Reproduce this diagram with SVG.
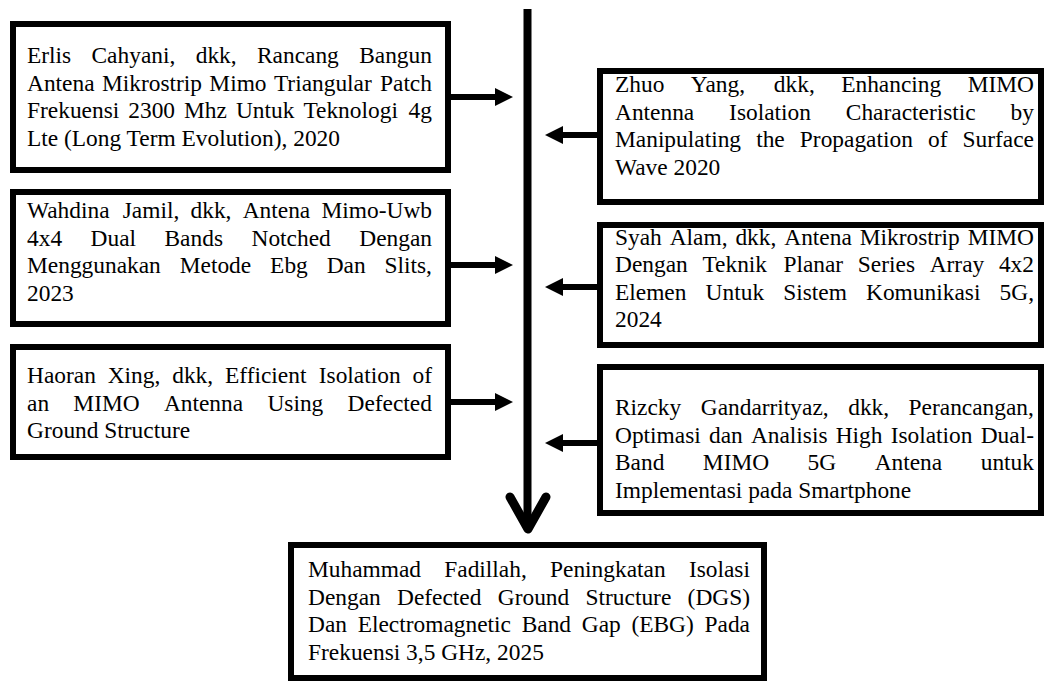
<svg xmlns="http://www.w3.org/2000/svg" width="1046" height="682" viewBox="0 0 1046 682">
<style>
.box{fill:#fff;stroke:#000;stroke-width:6}
.t{font-family:"Liberation Serif","Times New Roman",serif;font-size:23.4px;fill:#000}
.con{stroke:#000;fill:none}
</style>
<defs>
<marker id="ah" markerUnits="userSpaceOnUse" markerWidth="18" markerHeight="18" refX="0" refY="9" orient="auto">
<path d="M0,0 L18,9 L0,18 Z" fill="#000"/>
</marker>
</defs>
<rect width="1046" height="682" fill="#fff"/>
<g id="connectors">
<line class="con" x1="527.5" y1="9" x2="527.5" y2="526" stroke-width="8"/>
<path class="con" d="M510,497 L528,529 L546,497" stroke-width="9" stroke-linecap="round" stroke-linejoin="round"/>
<line class="con" x1="451" y1="97" x2="495" y2="97" stroke-width="6" marker-end="url(#ah)"/>
<line class="con" x1="451" y1="265" x2="495" y2="265" stroke-width="6" marker-end="url(#ah)"/>
<line class="con" x1="451" y1="402" x2="495" y2="402" stroke-width="6" marker-end="url(#ah)"/>
<line class="con" x1="597" y1="135" x2="563" y2="135" stroke-width="6" marker-end="url(#ah)"/>
<line class="con" x1="597" y1="287" x2="563" y2="287" stroke-width="6" marker-end="url(#ah)"/>
<line class="con" x1="597" y1="443" x2="563" y2="443" stroke-width="6" marker-end="url(#ah)"/>
</g>
<g id="erlis">
<rect class="box" x="13" y="24" width="435" height="146"/>
<text class="t" y="63"><tspan x="27">Erlis</tspan><tspan x="91.53">Cahyani,</tspan><tspan x="195.7">dkk,</tspan><tspan x="256.98">Rancang</tspan><tspan x="359.19">Bangun</tspan></text>
<text class="t" y="90.7"><tspan x="27">Antena</tspan><tspan x="101.91">Mikrostrip</tspan><tspan x="209.35">Mimo</tspan><tspan x="273.89">Triangular</tspan><tspan x="379.99">Patch</tspan></text>
<text class="t" y="118.4"><tspan x="27">Frekuensi</tspan><tspan x="128.27">2300</tspan><tspan x="184.05">Mhz</tspan><tspan x="235.92">Untuk</tspan><tspan x="303.4">Teknologi</tspan><tspan x="408.58">4g</tspan></text>
<text class="t" x="27" y="146.1">Lte (Long Term Evolution), 2020</text>
</g>
<g id="wahdina">
<rect class="box" x="13" y="192" width="435" height="132"/>
<text class="t" y="218"><tspan x="27">Wahdina</tspan><tspan x="122.71">Jamil,</tspan><tspan x="190.51">dkk,</tspan><tspan x="242.7">Antena</tspan><tspan x="321.52">Mimo-Uwb</tspan></text>
<text class="t" y="245.7"><tspan x="27">4x4</tspan><tspan x="90.57">Dual</tspan><tspan x="164.53">Bands</tspan><tspan x="251.5">Notched</tspan><tspan x="359.25">Dengan</tspan></text>
<text class="t" y="273.4"><tspan x="27">Menggunakan</tspan><tspan x="179.74">Metode</tspan><tspan x="270.1">Ebg</tspan><tspan x="326.67">Dan</tspan><tspan x="384.52">Slits,</tspan></text>
<text class="t" x="27" y="301.1">2023</text>
</g>
<g id="haoran">
<rect class="box" x="13" y="347" width="435" height="110"/>
<text class="t" y="383"><tspan x="27">Haoran</tspan><tspan x="107.72">Xing,</tspan><tspan x="172.22">dkk,</tspan><tspan x="225.02">Efficient</tspan><tspan x="318.75">Isolation</tspan><tspan x="412.5">of</tspan></text>
<text class="t" y="410.7"><tspan x="27">an</tspan><tspan x="73.34">MIMO</tspan><tspan x="163.88">Antenna</tspan><tspan x="267.41">Using</tspan><tspan x="347.56">Defected</tspan></text>
<text class="t" x="27" y="438.4">Ground Structure</text>
</g>
<g id="zhuo">
<rect class="box" x="600" y="71" width="441" height="131"/>
<text class="t" y="92"><tspan x="615">Zhuo</tspan><tspan x="690.84">Yang,</tspan><tspan x="773.81">dkk,</tspan><tspan x="841.2">Enhancing</tspan><tspan x="967.72">MIMO</tspan></text>
<text class="t" y="119.5"><tspan x="615">Antenna</tspan><tspan x="729.1">Isolation</tspan><tspan x="845.82">Characteristic</tspan><tspan x="1010.6">by</tspan></text>
<text class="t" y="147"><tspan x="615">Manipulating</tspan><tspan x="756.17">the</tspan><tspan x="799.83">Propagation</tspan><tspan x="927.99">of</tspan><tspan x="962.55">Surface</tspan></text>
<text class="t" x="615" y="174.5">Wave 2020</text>
</g>
<g id="syah">
<rect class="box" x="600" y="225" width="441" height="120"/>
<text class="t" y="244.5"><tspan x="615">Syah</tspan><tspan x="669.69">Alam,</tspan><tspan x="735.42">dkk,</tspan><tspan x="784.26">Antena</tspan><tspan x="859.73">Mikrostrip</tspan><tspan x="967.73">MIMO</tspan></text>
<text class="t" y="272"><tspan x="615">Dengan</tspan><tspan x="702.43">Teknik</tspan><tspan x="783.38">Planar</tspan><tspan x="857.83">Series</tspan><tspan x="929.68">Array</tspan><tspan x="998.91">4x2</tspan></text>
<text class="t" y="299.5"><tspan x="615">Elemen</tspan><tspan x="705.6">Untuk</tspan><tspan x="783.21">Sistem</tspan><tspan x="866.04">Komunikasi</tspan><tspan x="999.55">5G,</tspan></text>
<text class="t" x="615" y="327">2024</text>
</g>
<g id="rizcky">
<rect class="box" x="600" y="367" width="441" height="146"/>
<text class="t" y="415"><tspan x="615">Rizcky</tspan><tspan x="700.74">Gandarrityaz,</tspan><tspan x="848.19">dkk,</tspan><tspan x="908.59">Perancangan,</tspan></text>
<text class="t" y="442.5"><tspan x="615">Optimasi</tspan><tspan x="708.95">dan</tspan><tspan x="750.88">Analisis</tspan><tspan x="835.73">High</tspan><tspan x="890.67">Isolation</tspan><tspan x="980.71">Dual-</tspan></text>
<text class="t" y="470"><tspan x="615">Band</tspan><tspan x="702.86">MIMO</tspan><tspan x="807.61">5G</tspan><tspan x="874.66">Antena</tspan><tspan x="980.7">untuk</tspan></text>
<text class="t" x="615" y="497.5">Implementasi pada Smartphone</text>
</g>
<g id="fadillah">
<rect class="box" x="291" y="545" width="473" height="133"/>
<text class="t" y="577"><tspan x="308">Muhammad</tspan><tspan x="444.28">Fadillah,</tspan><tspan x="550.03">Peningkatan</tspan><tspan x="688.91">Isolasi</tspan></text>
<text class="t" y="604.5"><tspan x="308">Dengan</tspan><tspan x="397.05">Defected</tspan><tspan x="497.78">Ground</tspan><tspan x="585.55">Structure</tspan><tspan x="687.61">(DGS)</tspan></text>
<text class="t" y="632"><tspan x="308">Dan</tspan><tspan x="357.66">Electromagnetic</tspan><tspan x="521.7">Band</tspan><tspan x="581.78">Gap</tspan><tspan x="631.44">(EBG)</tspan><tspan x="704.5">Pada</tspan></text>
<text class="t" x="308" y="659.5">Frekuensi 3,5 GHz, 2025</text>
</g>
</svg>
